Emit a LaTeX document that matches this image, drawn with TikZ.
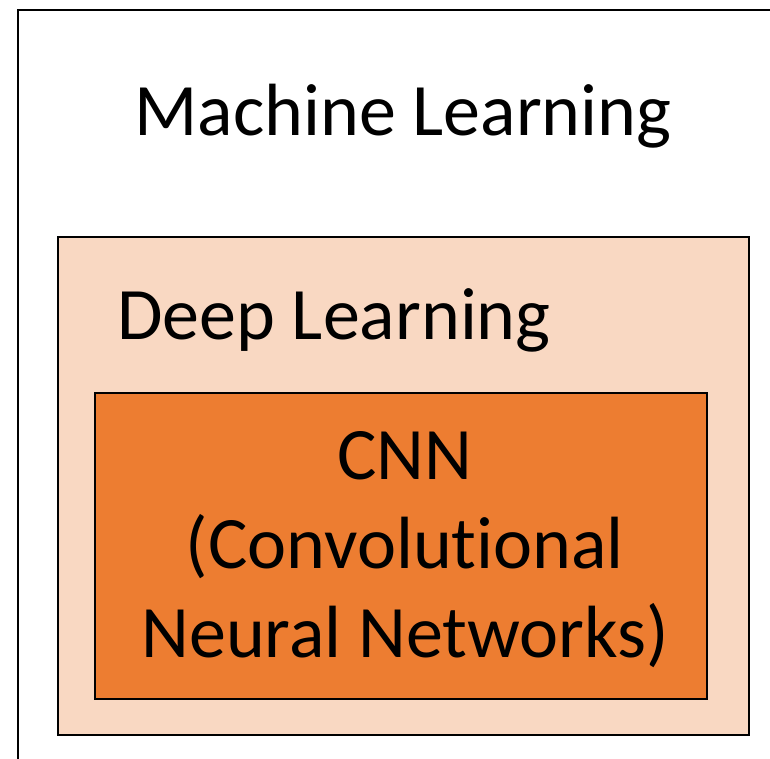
\documentclass[tikz,border=0pt]{standalone}
\usepackage{fontspec}
\setmainfont{Carlito}[Ligatures={NoCommon,NoDiscretionary,NoRare},Contextuals={NoAlternate}]
\definecolor{peach}{HTML}{F9D8C2}
\definecolor{accent}{HTML}{ED7D31}
\begin{document}
\begin{tikzpicture}[x=1pt,y=1pt,
  boxline/.style={draw=black,line width=2.4pt},
  bigtext/.style={font=\fontsize{74}{89}\selectfont,inner sep=0pt}]
\useasboundingbox (0,0) rectangle (770,759);
\clip (0,0) rectangle (770,759);
\fill[white] (0,0) rectangle (770,759);
\node[boxline,minimum width=790pt,minimum height=780pt,anchor=north west,inner sep=0pt] (ml) at (17,750) {};
\node[boxline,fill=peach,minimum width=691pt,minimum height=498pt,anchor=north west,inner sep=0pt] (dl) at (57,523) {};
\node[boxline,fill=accent,minimum width=612pt,minimum height=306pt,anchor=north west,inner sep=0pt] (cnn) at (94,367) {};
\node[bigtext,anchor=base] (mltext) at (403,623) {Machine Learning};
\node[bigtext,anchor=base west] (dltext) at (117,419) {Deep Learning};
\node[bigtext,align=center,anchor=base] (cnntext) at (405,101) {CNN\\(Convolut\kern0pt ional\\Neural Networks)};
\end{tikzpicture}
\end{document}
